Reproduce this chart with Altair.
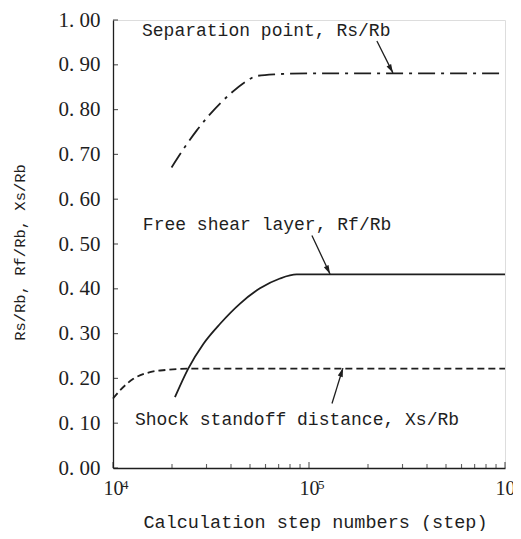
import altair as alt
import pandas as pd

# ---- data ----
sep_x = [1.99e4, 2.29e4, 2.67e4, 3.13e4, 3.96e4, 4.81e4, 5.41e4, 6.84e4, 1.0e5, 3.0e5, 1.0e6]
sep_y = [0.671, 0.712, 0.753, 0.790, 0.835, 0.864, 0.875, 0.879, 0.881, 0.881, 0.881]
shear_x = [2.07e4, 2.42e4, 2.89e4, 3.52e4, 4.45e4, 5.62e4, 7.11e4, 8.65e4, 1.0e5, 3.0e5, 1.0e6]
shear_y = [0.158, 0.222, 0.277, 0.322, 0.367, 0.401, 0.423, 0.432, 0.432, 0.432, 0.432]
shock_x = [1.0e4, 1.085e4, 1.27e4, 1.545e4, 1.88e4, 2.5e4, 1.0e5, 1.0e6]
shock_y = [0.155, 0.173, 0.199, 0.214, 0.219, 0.222, 0.222, 0.222]

y_ticks = [0.0, 0.1, 0.2, 0.3, 0.4, 0.5, 0.6, 0.7, 0.8, 0.9, 1.0]
x_major = [1e4, 1e5, 1e6]
x_major_base = ["10", "10", "10"]
x_major_exp = ["4", "5", "6"]
x_minor = [2e4, 3e4, 4e4, 5e4, 6e4, 7e4, 8e4, 9e4,
           2e5, 3e5, 4e5, 5e5, 6e5, 7e5, 8e5, 9e5]

ann_text = ["Separation point,   Rs/Rb", "Free shear layer,  Rf/Rb",
            "Shock standoff distance,  Xs/Rb"]
ann_x = [1.406e4, 1.42e4, 1.295e4]
ann_y = [0.9646, 0.532, 0.095]

arrow_x = [2.22e5, 1.035e5, 1.31e5]
arrow_y = [0.953, 0.519, 0.144]
arrow_x2 = [2.68e5, 1.28e5, 1.49e5]
arrow_y2 = [0.882, 0.433, 0.223]
arrow_angle = [152, 154, 18]

W, H = 392, 448
INK = "#1e1e1e"

xscale = alt.Scale(type="log", domain=[1e4, 1e6], nice=False)
yscale = alt.Scale(domain=[0, 1], nice=False)

label_expr = " : ".join(
    [f"datum.value == {v:.0f} ? '{l}'" for v, l in zip(x_major[:-1], x_major_base[:-1])]
    + [f"'{x_major_base[-1]}'"])

xaxis = alt.Axis(values=x_major, labelExpr=label_expr, tickSize=0, grid=False,
                 labelFlush=False, labelOverlap=False,
                 domainColor=INK, domainWidth=1.3, labelFont="Liberation Serif",
                 labelFontSize=20, labelColor=INK, labelPadding=10,
                 title="Calculation step numbers   (step)", titleFont="Liberation Mono",
                 titleFontSize=18.5, titleFontWeight="normal", titleColor=INK,
                 titleX=202, titleY=59, titleBaseline="alphabetic", titleAlign="center")
yaxis = alt.Axis(values=y_ticks, labelExpr="replace(format(datum.value, '.2f'), '.', '. ')",
                 tickSize=0, grid=False, labelFlush=False, labelOverlap=False,
                 domainColor=INK, domainWidth=1.3,
                 labelFont="Liberation Serif", labelFontSize=21, labelColor=INK,
                 labelPadding=13,
                 title="Rs/Rb,  Rf/Rb,  Xs/Rb", titleFont="Liberation Mono",
                 titleFontSize=15.5, titleFontWeight="normal", titleColor=INK,
                 titleX=-94, titleY=232, titleBaseline="middle", titleAlign="center")

def X(field):
    return alt.X(field, scale=xscale, axis=xaxis)

def Y(field):
    return alt.Y(field, scale=yscale, axis=yaxis)

sep_df = pd.DataFrame({"x": sep_x, "y": sep_y})
shear_df = pd.DataFrame({"x": shear_x, "y": shear_y})
shock_df = pd.DataFrame({"x": shock_x, "y": shock_y})

def line(df, dash):
    kw = dict(color=INK, strokeWidth=1.8, interpolate="monotone")
    if dash:
        kw["strokeDash"] = dash
    return alt.Chart(df).mark_line(**kw).encode(x=X("x:Q"), y=Y("y:Q"))

sep_line = line(sep_df, [17, 6, 3, 6])
shear_line = line(shear_df, None)
shock_line = line(shock_df, [7, 4])

ytick_layer = alt.Chart(pd.DataFrame({"v": y_ticks})).mark_tick(
    orient="horizontal", size=5, thickness=1.2, color=INK).encode(
    y=Y("v:Q"), x=alt.value(2.5))
xmaj_layer = alt.Chart(pd.DataFrame({"v": x_major})).mark_tick(
    orient="vertical", size=6, thickness=1.2, color=INK).encode(
    x=X("v:Q"), y=alt.value(H - 3))
xmin_layer = alt.Chart(pd.DataFrame({"v": x_minor})).mark_tick(
    orient="vertical", size=4, thickness=1.1, color=INK).encode(
    x=X("v:Q"), y=alt.value(H - 2))

exp_layer = alt.Chart(pd.DataFrame({"v": x_major, "e": x_major_exp})).mark_text(
    align="left", baseline="alphabetic", font="Liberation Serif", fontSize=13,
    color=INK, dx=9).encode(x=X("v:Q"), y=alt.value(H + 21), text="e:N")

ann_df = pd.DataFrame({"t": ann_text, "x": ann_x, "y": ann_y})
text_layer = alt.Chart(ann_df).mark_text(
    align="left", baseline="alphabetic", font="Liberation Mono", fontSize=18,
    color=INK).encode(x=X("x:Q"), y=Y("y:Q"), text="t:N")

arr_df = pd.DataFrame({"x": arrow_x, "y": arrow_y, "x2": arrow_x2, "y2": arrow_y2,
                       "a": arrow_angle})
arrow_lines = alt.Chart(arr_df).mark_rule(color=INK, strokeWidth=1.3).encode(
    x=X("x:Q"), y=Y("y:Q"), x2="x2:Q", y2="y2:Q")
arrow_heads = alt.Chart(arr_df).mark_point(
    shape="M0,0 L-0.3,1 L0.3,1 Z", filled=True, size=300, color=INK, opacity=1).encode(
    x=X("x2:Q"), y=Y("y2:Q"), angle=alt.Angle("a:Q", scale=None))

chart = alt.layer(
    sep_line, shear_line, shock_line, ytick_layer, xmaj_layer, xmin_layer,
    exp_layer, text_layer, arrow_lines, arrow_heads
).properties(
    width=W, height=H, autosize="none",
    padding={"left": 105, "top": 12, "right": 8, "bottom": 63},
).configure_view(strokeWidth=0, stroke="transparent").configure(background="white")

chart.save("out.html", embed_options={"renderer": "svg", "actions": False})
